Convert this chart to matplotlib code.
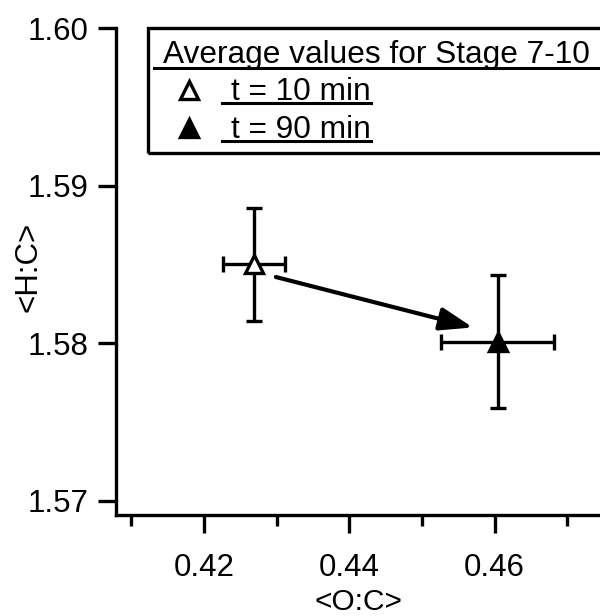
import matplotlib
matplotlib.use("Agg")
import matplotlib.pyplot as plt
from matplotlib.lines import Line2D
from matplotlib.patches import Rectangle
from matplotlib.ticker import MultipleLocator

plt.rcParams['font.family'] = ['Liberation Sans', 'DejaVu Sans']

# Average values for stage 7-10
labels = ["t = 10 min", "t = 90 min"]
oc = [0.4269, 0.4604]
hc = [1.5850, 1.5801]
oc_err = [0.0043, 0.0078]
hc_err = [0.0036, 0.0042]
fills = ["white", "black"]

# arrow from the 10 min point towards the 90 min point
arrow_from = (0.4299, 1.5842)
arrow_to = (0.4570, 1.5810)

W, H = 600, 616
FS = 22.75
fig = plt.figure(figsize=(W / 100, H / 100), dpi=100)
ax = fig.add_axes([116 / W, 1 - 515 / H, 1 - 116 / W, (515 - 28) / H])

for i in range(len(oc)):
	ax.errorbar(oc[i], hc[i], xerr=oc_err[i], yerr=hc_err[i], fmt="none",
				ecolor="black", elinewidth=2.4, capsize=5.5, capthick=2.4, zorder=2)
	ax.plot(oc[i], hc[i], marker="^", ms=12.5, mfc=fills[i], mec="black", mew=2.4,
			ls="none", zorder=3)

ax.annotate("", xy=arrow_to, xytext=arrow_from,
			arrowprops=dict(arrowstyle="-|>,head_length=1.0,head_width=0.35",
							mutation_scale=20, lw=3, color="black",
							shrinkA=0, shrinkB=0))

ax.set_xlim(0.4079, 0.4745)
ax.set_ylim(1.5691, 1.60)
ax.xaxis.set_minor_locator(MultipleLocator(0.01))
ax.yaxis.set_major_locator(MultipleLocator(0.01))
ax.set_xticks([0.42, 0.44, 0.46])
ax.xaxis.set_major_formatter(plt.FuncFormatter(lambda v, p: "%.2f" % v))
ax.yaxis.set_major_formatter(plt.FuncFormatter(lambda v, p: "%.2f" % v))

for s in ["top", "right"]:
	ax.spines[s].set_visible(False)
for s in ["left", "bottom"]:
	ax.spines[s].set_linewidth(2.4)
ax.tick_params(axis="both", which="major", direction="out", length=13, width=2.4,
			   labelsize=22.5, pad=7)
ax.tick_params(axis="x", which="major", pad=14)
ax.tick_params(axis="x", which="minor", direction="out", length=8, width=2.4)

ax.set_xlabel("<O:C>", fontsize=21.5)
ax.set_ylabel("<H:C>", fontsize=22.5)
ax.xaxis.set_label_coords(0.5, (515 - 588) / 487)
ax.yaxis.set_label_coords((43 - 116) / 484, 0.51)


# legend box drawn by hand so the texts can be underlined
def fx(px):
	return px / W


def fy(py):
	return 1 - py / H


fig.add_artist(Rectangle((fx(148), fy(153)), fx(480), 125 / H, fill=False,
						 lw=2.4, ec="black", transform=fig.transFigure, clip_on=False))
title = fig.text(fx(163), fy(63), "Average values for Stage 7-10", fontsize=FS,
				 va="baseline", ha="left")
entries = []
for i, lab in enumerate(labels):
	ym = 90 + 38 * i
	fig.add_artist(Line2D([fx(189)], [fy(ym)], marker="^", ms=12.5, mfc=fills[i],
						  mec="black", mew=2.4, ls="none", transform=fig.transFigure))
	entries.append(fig.text(fx(231), fy(100 + 38 * i), lab, fontsize=FS,
							va="baseline", ha="left"))

fig.canvas.draw()
r = fig.canvas.get_renderer()
sp = FS * 100 / 72 * 0.278
bb = title.get_window_extent(r)
fig.add_artist(Line2D([fx(bb.x0 - sp), fx(bb.x1 + sp)], [fy(68), fy(68)], lw=2.2,
					  color="black", transform=fig.transFigure))
for i, t in enumerate(entries):
	bb = t.get_window_extent(r)
	fig.add_artist(Line2D([fx(bb.x0 - sp), fx(bb.x1)], [fy(103 + 38 * i)] * 2, lw=2.2,
						  color="black", transform=fig.transFigure))

fig.savefig("out.png", dpi=100)
